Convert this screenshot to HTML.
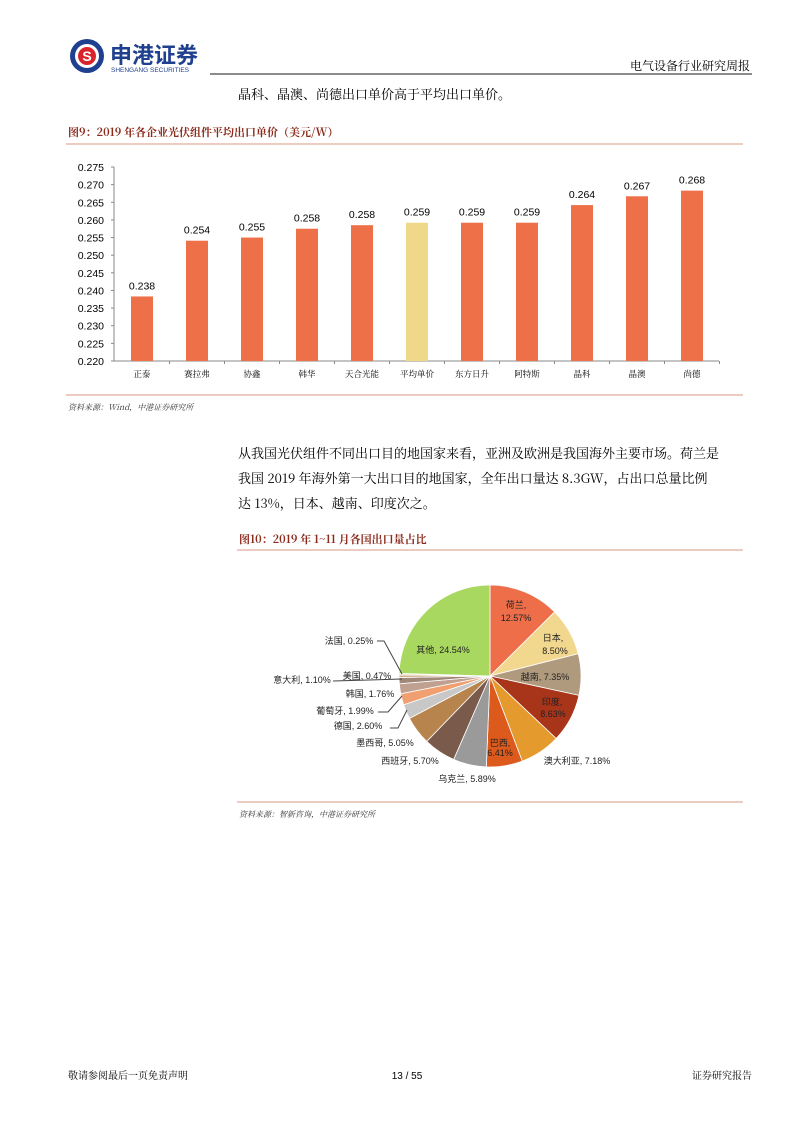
<!DOCTYPE html>
<html><head><meta charset="utf-8"><style>
body{margin:0;background:#fff;}
#p{position:relative;width:800px;height:1132px;font-family:"Liberation Sans","Noto Serif CJK SC","Noto Sans CJK SC",sans-serif;color:#111;overflow:hidden}
</style></head><body><div id="p">
<svg width="800" height="1132" style="position:absolute;left:0;top:0" font-family="Liberation Sans, Noto Sans CJK SC, sans-serif">
<circle cx="87" cy="56" r="17" fill="#1f3f8f"/><circle cx="87" cy="56" r="12" fill="#fff"/><circle cx="87" cy="56" r="9" fill="#d9242a"/>
<text x="87" y="61" font-size="14" font-weight="bold" fill="#fff" text-anchor="middle">S</text>
<text x="110" y="63" font-size="22" font-weight="bold" fill="#1f3f8f" font-family="Noto Sans CJK SC, sans-serif">申港证券</text>
<text x="111" y="72" font-size="6.5" fill="#1f3f8f">SHENGANG SECURITIES</text>
<line x1="210" y1="74" x2="752" y2="74" stroke="#666" stroke-width="1.5"/>
<text x="750" y="70" font-size="12" text-anchor="end" font-family="Noto Serif CJK SC, serif">电气设备行业研究周报</text>
<text x="238" y="99" font-size="13" font-family="Noto Serif CJK SC, serif">晶科、晶澳、尚德出口单价高于平均出口单价。</text>
<text x="68" y="136" font-size="11" font-weight="bold" fill="#8b2a1a" font-family="Noto Serif CJK SC, serif">图9：2019 年各企业光伏组件平均出口单价（美元/W）</text>
<line x1="66" y1="144" x2="743" y2="144" stroke="#d99a80" stroke-width="1"/>
<line x1="66" y1="395" x2="743" y2="395" stroke="#d99a80" stroke-width="1"/>
<text x="68" y="410" font-size="8" font-style="italic" fill="#333" font-family="Noto Serif CJK SC, serif">资料来源：Wind，中港证券研究所</text>
<g id="bars" font-size="10.5"></g>
<text x="238" y="458" font-size="13" font-family="Noto Serif CJK SC, serif">从我国光伏组件不同出口目的地国家来看，亚洲及欧洲是我国海外主要市场。荷兰是</text>
<text x="238" y="483" font-size="13" font-family="Noto Serif CJK SC, serif">我国 2019 年海外第一大出口目的地国家，全年出口量达 8.3GW，占出口总量比例</text>
<text x="238" y="508" font-size="13" font-family="Noto Serif CJK SC, serif">达 13%，日本、越南、印度次之。</text>
<text x="239" y="543" font-size="11" font-weight="bold" fill="#8b2a1a" font-family="Noto Serif CJK SC, serif">图10：2019 年 1~11 月各国出口量占比</text>
<line x1="237" y1="550" x2="743" y2="550" stroke="#d99a80" stroke-width="1"/>
<line x1="237" y1="802" x2="743" y2="802" stroke="#d99a80" stroke-width="1"/>
<text x="239" y="817" font-size="8" font-style="italic" fill="#333" font-family="Noto Serif CJK SC, serif">资料来源：智新咨询，中港证券研究所</text>
<g id="pie"></g>
<g stroke="#444" stroke-width="1" fill="none">
<polyline points="377,641 384,641 402,674"/>
<polyline points="333,681 402,679"/>
<polyline points="378,712 388,712 402,696"/>
<polyline points="390,728 398,728 407,710"/>
</g>
<g font-size="9" text-anchor="middle" fill="#222">
<text x="516" y="608">荷兰,</text><text x="516" y="621">12.57%</text>
<text x="553" y="641">日本,</text><text x="555" y="654">8.50%</text>
<text x="545" y="680">越南, 7.35%</text>
<text x="552" y="705">印度,</text><text x="553" y="717">8.63%</text>
<text x="577" y="764">澳大利亚, 7.18%</text>
<text x="500" y="746">巴西,</text><text x="500" y="756">6.41%</text>
<text x="467" y="782">乌克兰, 5.89%</text>
<text x="410" y="764">西班牙, 5.70%</text>
<text x="385" y="746">墨西哥, 5.05%</text>
<text x="358" y="729">德国, 2.60%</text>
<text x="345" y="714">葡萄牙, 1.99%</text>
<text x="370" y="697">韩国, 1.76%</text>
<text x="367" y="679">美国, 0.47%</text>
<text x="302" y="683">意大利, 1.10%</text>
<text x="349" y="644">法国, 0.25%</text>
<text x="443" y="653">其他, 24.54%</text>
</g>
<text x="68" y="1079" font-size="10" font-family="Noto Serif CJK SC, serif">敬请参阅最后一页免责声明</text>
<text x="407" y="1079" font-size="10" text-anchor="middle">13 / 55</text>
<text x="752" y="1079" font-size="10" text-anchor="end" font-family="Noto Serif CJK SC, serif">证券研究报告</text>
</svg>
<script>
var NS="http://www.w3.org/2000/svg";
function el(t,a,p,txt){var e=document.createElementNS(NS,t);for(var k in a)e.setAttribute(k,a[k]);if(txt!=null)e.textContent=txt;p.appendChild(e);return e;}
var g=document.getElementById('bars');
var y0=361,y1=167,vmin=0.22,vmax=0.275;
function Y(v){return y0-(v-vmin)/(vmax-vmin)*(y0-y1);}
el('line',{x1:114,y1:y1,x2:114,y2:y0,stroke:'#888'},g);
el('line',{x1:114,y1:y0,x2:719,y2:y0,stroke:'#888'},g);
for(var i=0;i<=11;i++){var v=vmin+i*0.005;var y=Y(v);el('line',{x1:111,y1:y,x2:114,y2:y,stroke:'#888'},g);el('text',{x:104,y:y+4,'text-anchor':'end'},g,v.toFixed(3));}
var names=['正泰','赛拉弗','协鑫','韩华','天合光能','平均单价','东方日升','阿特斯','晶科','晶澳','尚德'];
var vals=[0.2383,0.2541,0.255,0.2575,0.2585,0.2592,0.2592,0.2592,0.2642,0.2667,0.2683];
var lab=['0.238','0.254','0.255','0.258','0.258','0.259','0.259','0.259','0.264','0.267','0.268'];
for(var i=0;i<11;i++){var cx=142+i*55;
el('rect',{x:cx-11,y:Y(vals[i]),width:22,height:y0-Y(vals[i]),fill:i==5?'#f0d88a':'#ee7048'},g);
el('text',{x:cx,y:Y(vals[i])-7,'text-anchor':'middle'},g,lab[i]);
el('text',{x:cx,y:377,'text-anchor':'middle','font-size':'8.5','font-family':'Noto Serif CJK SC, serif'},g,names[i]);
el('line',{x1:cx+27.5,y1:y0,x2:cx+27.5,y2:y0+3,stroke:'#888'},g);}
var pg=document.getElementById('pie');
var pv=[12.57,8.50,7.35,8.63,7.18,6.41,5.89,5.70,5.05,2.60,1.99,1.76,1.10,0.47,0.25,24.54];
var pc=['#ee6e4a','#f2d88e','#b09a7e','#a8341a','#e59a2e','#dc5a1c','#9a9a9a','#7a5a4a','#b8844e','#c8c8c8','#f0a070','#c0a090','#a08878','#d0b090','#e8d0b0','#a8d860'];
var cx=490,cy=676,r=91,a=0;
for(var i=0;i<pv.length;i++){var a2=a+pv[i]/99.99*2*Math.PI;
var x1=cx+r*Math.sin(a),y1p=cy-r*Math.cos(a),x2=cx+r*Math.sin(a2),y2=cy-r*Math.cos(a2);
el('path',{d:'M'+cx+','+cy+'L'+x1+','+y1p+'A'+r+','+r+' 0 '+((a2-a)>Math.PI?1:0)+' 1 '+x2+','+y2+'Z',fill:pc[i],stroke:'#fff','stroke-width':'0.8'},pg);a=a2;}
</script>
</div></body></html>
